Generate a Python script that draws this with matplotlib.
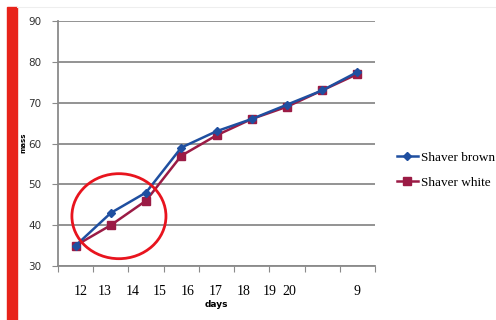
import matplotlib
matplotlib.use("Agg")
import matplotlib.pyplot as plt
from matplotlib.patches import Ellipse, Rectangle
from matplotlib.lines import Line2D

days = ["12", "13", "14", "15", "16", "17", "18", "19", "20", "9"]
label_pos = [0.15, 0.83, 1.63, 2.4, 3.19, 3.99, 4.78, 5.52, 6.06, 8.0]
brown = [35, 43, 48, 59, 63, 66, 69.5, 73, 77.5]
white = [35, 40, 46, 57, 62, 66, 69, 73, 77]
yticks = [30, 40, 50, 60, 70, 80, 90]

W, H = 496, 320
fig = plt.figure(figsize=(W / 100, H / 100), dpi=100)
ax = fig.add_axes([58 / W, 1 - 266 / H, (375 - 58) / W, (266 - 21) / H])

x = list(range(len(brown)))
ax.plot(x, white, color="#9B1B45", marker="s", markersize=6, lw=1.8, zorder=3, label="Shaver white")
ax.plot(x, brown, color="#1F4FA0", marker="D", markersize=4.5, lw=1.8, zorder=4, label="Shaver brown")

ax.set_xlim(-0.5, len(brown) - 0.5)
ax.set_ylim(30, 90)
ax.set_yticks(yticks)
ax.set_yticklabels([str(v) for v in yticks], fontsize=7.5, family="DejaVu Sans", color="#333333")
ax.yaxis.grid(True, color="#8a8a8a", lw=1.3)
ax.set_axisbelow(True)

ax.set_xticks([i - 0.5 for i in range(len(brown) + 1)])
ax.set_xticklabels([])
ax.set_xticks(label_pos, minor=True)
ax.set_xticklabels(days, minor=True, fontsize=10, family="Liberation Serif")
ax.tick_params(axis="x", which="minor", length=0, pad=14)
ax.tick_params(axis="x", which="major", length=4, color="#8a8a8a", direction="out")
ax.tick_params(axis="y", length=4, color="#8a8a8a", pad=8)

for s in ["top", "right"]:
    ax.spines[s].set_visible(False)
for s in ["left", "bottom"]:
    ax.spines[s].set_color("#8a8a8a")
    ax.spines[s].set_linewidth(1.3)

ax.set_xlabel("days", fontsize=6.5, fontweight="bold", labelpad=1)
fig.text(23 / W, 1 - 143 / H, "mass", rotation=90, fontsize=5, fontweight="bold",
         ha="center", va="center")

# red circle annotation
ax.add_patch(Ellipse((1.23, 42.2), 94 / 35.2, 85 / 4.083, fill=False,
                     edgecolor="#E8141E", lw=2, zorder=5, clip_on=False))

# red bar on left
fig.patches.append(Rectangle((7 / W, 0), 10 / W, 1 - 7 / H, transform=fig.transFigure,
                             color="#E8231A", zorder=0))
fig.lines.append(Line2D([17 / W, 1], [1 - 7 / H, 1 - 7 / H], transform=fig.transFigure,
                        color="#eeeeee", lw=0.8))

handles = [Line2D([], [], color="#1F4FA0", marker="D", markersize=4.5, lw=1.8),
           Line2D([], [], color="#9B1B45", marker="s", markersize=6, lw=1.8)]
fig.legend(handles, ["Shaver brown", "Shaver white"], loc="upper left",
           bbox_to_anchor=(390 / W, 1 - 145 / H), frameon=False, borderpad=0,
           handlelength=1.65, handletextpad=0.2, labelspacing=0.95,
           prop={"family": "Liberation Serif", "size": 9.5})

fig.savefig("out.png", dpi=100)
